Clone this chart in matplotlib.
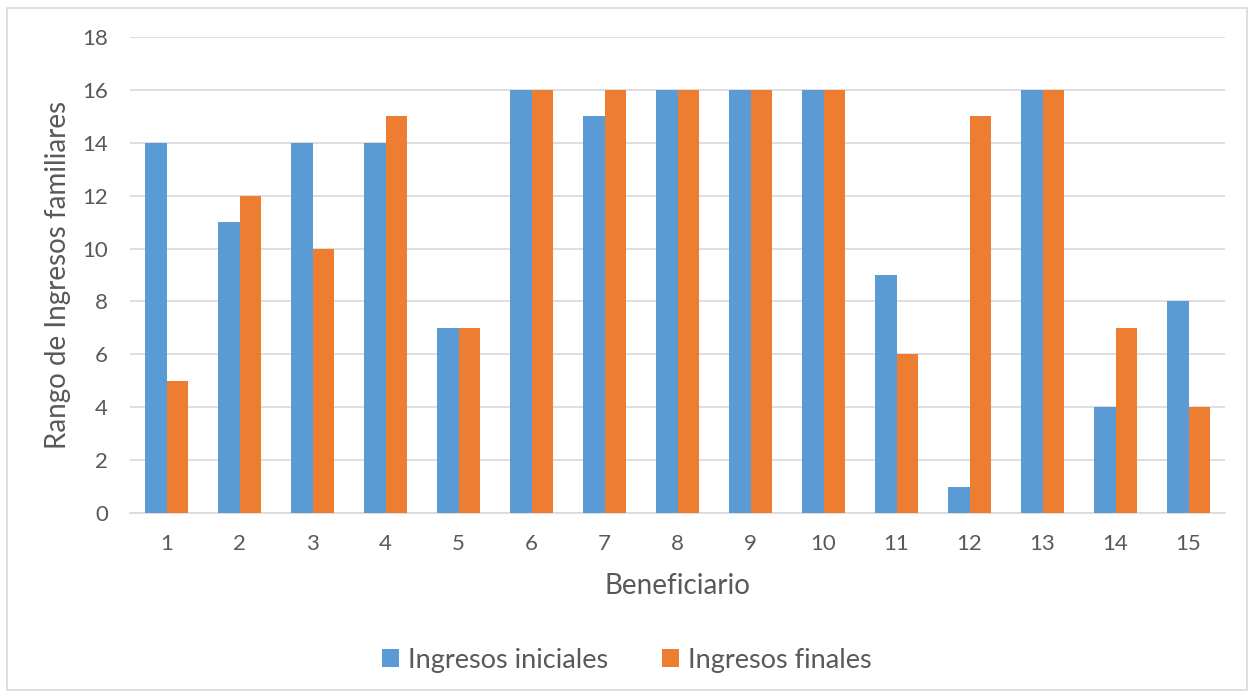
import numpy as np
import matplotlib
matplotlib.use("Agg")
import matplotlib.pyplot as plt
from matplotlib.patches import Rectangle

# data
beneficiarios = [str(i) for i in range(1, 16)]
ingresos_iniciales = [14, 11, 14, 14, 7, 16, 15, 16, 16, 16, 9, 1, 16, 4, 8]
ingresos_finales = [5, 12, 10, 15, 7, 16, 16, 16, 16, 16, 6, 15, 16, 7, 4]

plt.rcParams['font.family'] = ['Lato', 'DejaVu Sans']
txt = '#595959'

fig = plt.figure(figsize=(12.53, 6.95), dpi=100)
ax = fig.add_axes([0.1038, 0.2619, 0.8739, 0.6849])

x = np.arange(len(beneficiarios))
w = 0.29
ax.bar(x - w / 2, ingresos_iniciales, w, color='#5B9BD5', label='Ingresos iniciales', zorder=3)
ax.bar(x + w / 2, ingresos_finales, w, color='#ED7D31', label='Ingresos finales', zorder=3)

ax.set_xlim(-0.5, len(beneficiarios) - 0.5)
ax.set_ylim(0, 18)
ax.set_yticks(range(0, 19, 2))
ax.set_xticks(x)
ax.set_xticklabels(beneficiarios)
ax.yaxis.grid(True, color='#D9D9D9', linewidth=1.2, zorder=0)
for s in ['top', 'right', 'left']:
    ax.spines[s].set_visible(False)
ax.spines['bottom'].set_color('#D9D9D9')
ax.spines['bottom'].set_linewidth(1.2)
ax.tick_params(length=0, labelsize=16, colors=txt, pad=15)
ax.tick_params(axis='y', pad=16)

ax.set_xlabel('Beneficiario', fontsize=20, color=txt, labelpad=14)
ax.set_ylabel('Rango de Ingresos familiares', fontsize=20, color=txt, labelpad=8)

fig.legend(loc='center', bbox_to_anchor=(0.5, 0.05), ncol=2, frameon=False,
           fontsize=19.5, labelcolor=txt, handlelength=0.65, handleheight=0.65,
           handletextpad=0.3, columnspacing=2.0)

fig.patches.append(Rectangle((0.0056, 0.007), 0.9896, 0.981, transform=fig.transFigure,
                             fill=False, edgecolor='#D9D9D9', linewidth=1.2))

fig.savefig('out.png', dpi=100)
